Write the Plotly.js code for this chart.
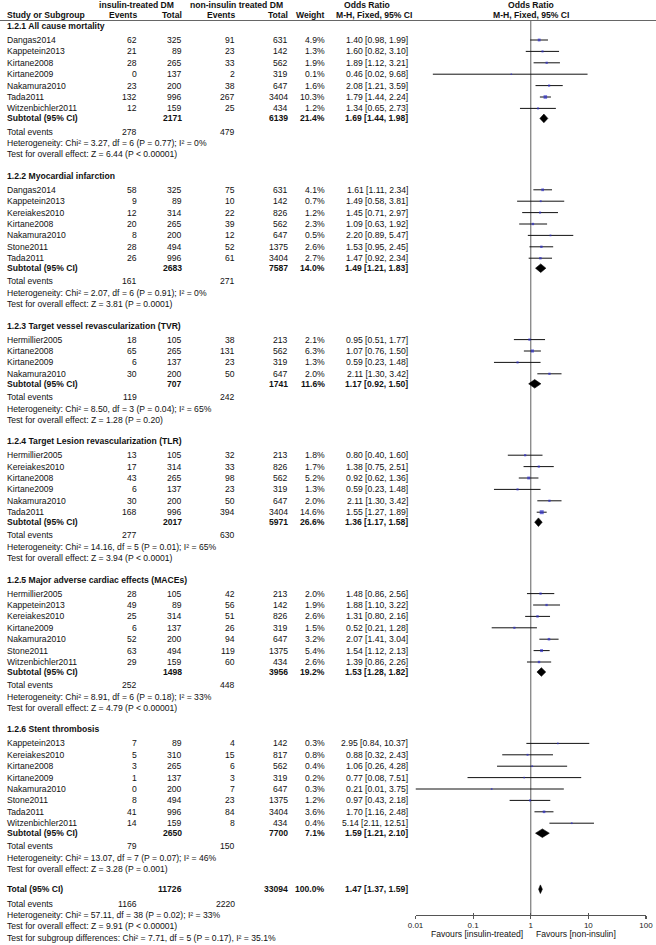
<!DOCTYPE html>
<html><head><meta charset="utf-8">
<script src="https://cdn.plot.ly/plotly-3.0.1.min.js"></script>
<style>html,body{margin:0;padding:0;background:#fff;}</style>
</head><body>
<div id="chart" style="width:656px;height:945px"></div>
<script>
// ---------- DATA ----------
const groupTitles = [
  '1.2.1 All cause mortality',
  '1.2.2 Myocardial infarction',
  '1.2.3 Target vessel revascularization (TVR)',
  '1.2.4 Target Lesion revascularization (TLR)',
  '1.2.5 Major adverse cardiac effects (MACEs)',
  '1.2.6 Stent thrombosis'
];
const groupSizes = [7, 7, 4, 6, 7, 8];

const studyNames = [
  'Dangas2014','Kappetein2013','Kirtane2008','Kirtane2009','Nakamura2010','Tada2011','Witzenbichler2011',
  'Dangas2014','Kappetein2013','Kereiakes2010','Kirtane2008','Nakamura2010','Stone2011','Tada2011',
  'Hermillier2005','Kirtane2008','Kirtane2009','Nakamura2010',
  'Hermillier2005','Kereiakes2010','Kirtane2008','Kirtane2009','Nakamura2010','Tada2011',
  'Hermillier2005','Kappetein2013','Kereiakes2010','Kirtane2009','Nakamura2010','Stone2011','Witzenbichler2011',
  'Kappetein2013','Kereiakes2010','Kirtane2008','Kirtane2009','Nakamura2010','Stone2011','Tada2011','Witzenbichler2011'
];
const insEvents = [62,21,28,0,23,132,12, 58,9,12,20,8,28,26, 18,65,6,30, 13,17,43,6,30,168, 28,49,25,6,52,63,29, 7,5,3,1,0,8,41,14];
const insTotals = [325,89,265,137,200,996,159, 325,89,314,265,200,494,996, 105,265,137,200, 105,314,265,137,200,996, 105,89,314,137,200,494,159, 89,310,265,137,200,494,996,159];
const nonEvents = [91,23,33,2,38,267,25, 75,10,22,39,12,52,61, 38,131,23,50, 32,33,98,23,50,394, 42,56,51,26,94,119,60, 4,15,6,3,7,23,84,8];
const nonTotals = [631,142,562,319,647,3404,434, 631,142,826,562,647,1375,3404, 213,562,319,647, 213,826,562,319,647,3404, 213,142,826,319,647,1375,434, 142,817,562,319,647,1375,3404,434];
const weights = [4.9,1.3,1.9,0.1,1.6,10.3,1.2, 4.1,0.7,1.2,2.3,0.5,2.6,2.7, 2.1,6.3,1.3,2.0, 1.8,1.7,5.2,1.3,2.0,14.6, 2.0,1.9,2.6,1.5,3.2,5.4,2.6, 0.3,0.8,0.4,0.2,0.3,1.2,3.6,0.4];
const orValues = [1.40,1.60,1.89,0.46,2.08,1.79,1.34, 1.61,1.49,1.45,1.09,2.20,1.53,1.47, 0.95,1.07,0.59,2.11, 0.80,1.38,0.92,0.59,2.11,1.55, 1.48,1.88,1.31,0.52,2.07,1.54,1.39, 2.95,0.88,1.06,0.77,0.21,0.97,1.70,5.14];
const ciLow = [0.98,0.82,1.12,0.02,1.21,1.44,0.65, 1.11,0.58,0.71,0.63,0.89,0.95,0.92, 0.51,0.76,0.23,1.30, 0.40,0.75,0.62,0.23,1.30,1.27, 0.86,1.10,0.80,0.21,1.41,1.12,0.86, 0.84,0.32,0.26,0.08,0.01,0.43,1.16,2.11];
const ciHigh = [1.99,3.10,3.21,9.68,3.59,2.24,2.73, 2.34,3.81,2.97,1.92,5.47,2.45,2.34, 1.77,1.50,1.48,3.42, 1.60,2.51,1.36,1.48,3.42,1.89, 2.56,3.22,2.16,1.28,3.04,2.13,2.26, 10.37,2.43,4.28,7.51,3.75,2.18,2.48,12.51];

const subInsTotals = [2171,2683,707,2017,1498,2650];
const subNonTotals = [6139,7587,1741,5971,3956,7700];
const subWeights = [21.4,14.0,11.6,26.6,19.2,7.1];
const subOR = [1.69,1.49,1.17,1.36,1.53,1.59];
const subLow = [1.44,1.21,0.92,1.17,1.28,1.21];
const subHigh = [1.98,1.83,1.50,1.58,1.82,2.10];
const subInsEvents = [278,161,119,277,252,79];
const subNonEvents = [479,271,242,630,448,150];
const hetChi2 = [3.27,2.07,8.50,14.16,8.91,13.07];
const hetDf = [6,6,3,5,6,7];
const hetP = [0.77,0.91,0.04,0.01,0.18,0.07];
const hetI2 = [0,0,65,65,33,46];
const effectZ = [6.44,3.81,1.28,3.94,4.79,3.28];
const effectP = ['< 0.00001','= 0.0001','= 0.20','< 0.0001','< 0.00001','= 0.001'];

const overallTotals = [11726, 33094];
const overallEvents = [1166, 2220];
const overallEstimate = [1.47, 1.37, 1.59];   // OR, low, high
const overallWeight = 100.0;
const overallHet = [57.11, 38, 0.02, 33];      // chi2, df, P, I2
const overallEffect = [9.91, '< 0.00001'];     // Z, P
const subgroupDiff = [7.71, 5, 0.17, 35.1];    // chi2, df, P, I2

const axisTicks = [0.01, 0.1, 1, 10, 100];
const axisTickText = ['0.01', '0.1', '1', '10', '100'];

// ---------- LAYOUT GEOMETRY ----------
const W = 656, H = 945;
const COL = {name: 7, insEv: 137, insTot: 182, nonEv: 235, nonTot: 287.5, weight: 325, orText: 408};
const ROW = 11.4;
const AXIS_Y = 915, HEAD_LINE = 20.5;

const font = {family: 'Arial, "Liberation Sans", Helvetica, sans-serif', size: 8.6, color: '#111'};
const annotations = [];
function txt(x, y, text, anchor, bold, xref) {
  annotations.push({
    xref: xref || 'x', yref: 'y', x: x, y: y,
    text: bold ? '<b>' + text + '</b>' : text,
    showarrow: false, xanchor: anchor, yanchor: 'middle',
    font: font, borderpad: 0, borderwidth: 0
  });
}
const f2 = v => v.toFixed(2);
const orStr = (o, l, h) => f2(o) + ' [' + f2(l) + ', ' + f2(h) + ']';

// header
txt(136.5, 4.5, 'insulin-treated DM', 'center', true);
txt(236.5, 4.5, 'non-insulin treated DM', 'center', true);
txt(367, 4.5, 'Odds Ratio', 'center', true);
txt(0, 4.5, 'Odds Ratio', 'center', true, 'x2');
txt(COL.name, 15, 'Study or Subgroup', 'left', true);
txt(COL.insEv, 15, 'Events', 'right', true);
txt(COL.insTot, 15, 'Total', 'right', true);
txt(COL.nonEv, 15, 'Events', 'right', true);
txt(COL.nonTot, 15, 'Total', 'right', true);
txt(COL.weight, 15, 'Weight', 'right', true);
txt(374, 15, 'M-H, Fixed, 95% CI', 'center', true);
txt(0, 15, 'M-H, Fixed, 95% CI', 'center', true, 'x2');

// rows
const studyY = [];
const diamondX = [], diamondY = [];
const DH = 4.3;
function addDiamond(o, l, h, y) {
  diamondX.push(l, o, h, o, l, null);
  diamondY.push(y, y - DH, y, y + DH, y, null);
}
let y = 26, k = 0, lastTest = 0;
groupSizes.forEach((n, g) => {
  txt(COL.name, y, groupTitles[g], 'left', true);
  let yy = y + 14;
  for (let i = 0; i < n; i++, k++) {
    studyY.push(yy);
    txt(COL.name, yy, studyNames[k], 'left');
    txt(COL.insEv, yy, String(insEvents[k]), 'right');
    txt(COL.insTot, yy, String(insTotals[k]), 'right');
    txt(COL.nonEv, yy, String(nonEvents[k]), 'right');
    txt(COL.nonTot, yy, String(nonTotals[k]), 'right');
    txt(COL.weight, yy, weights[k].toFixed(1) + '%', 'right');
    txt(COL.orText, yy, orStr(orValues[k], ciLow[k], ciHigh[k]), 'right');
    yy += ROW;
  }
  const sy = yy - ROW + 10;
  txt(COL.name, sy, 'Subtotal (95% CI)', 'left', true);
  txt(COL.insTot, sy, String(subInsTotals[g]), 'right', true);
  txt(COL.nonTot, sy, String(subNonTotals[g]), 'right', true);
  txt(COL.weight, sy, subWeights[g].toFixed(1) + '%', 'right', true);
  txt(COL.orText, sy, orStr(subOR[g], subLow[g], subHigh[g]), 'right', true);
  addDiamond(subOR[g], subLow[g], subHigh[g], sy);
  txt(COL.name, sy + 13.2, 'Total events', 'left');
  txt(COL.insEv, sy + 13.2, String(subInsEvents[g]), 'right');
  txt(COL.nonEv, sy + 13.2, String(subNonEvents[g]), 'right');
  txt(COL.name, sy + 24.8, 'Heterogeneity: Chi² = ' + f2(hetChi2[g]) + ', df = ' + hetDf[g] +
      ' (P = ' + f2(hetP[g]) + '); I² = ' + hetI2[g] + '%', 'left');
  txt(COL.name, sy + 36, 'Test for overall effect: Z = ' + f2(effectZ[g]) + ' (P ' +
      effectP[g].replace('<', '&lt;') + ')', 'left');
  lastTest = sy + 36;
  y = sy + 36 + 21.4;
});

const ty = lastTest + 20;
txt(COL.name, ty, 'Total (95% CI)', 'left', true);
txt(COL.insTot, ty, String(overallTotals[0]), 'right', true);
txt(COL.nonTot, ty, String(overallTotals[1]), 'right', true);
txt(COL.weight, ty, overallWeight.toFixed(1) + '%', 'right', true);
txt(COL.orText, ty, orStr(overallEstimate[0], overallEstimate[1], overallEstimate[2]), 'right', true);
addDiamond(overallEstimate[0], overallEstimate[1], overallEstimate[2], ty);
txt(COL.name, ty + 15, 'Total events', 'left');
txt(COL.insEv, ty + 15, String(overallEvents[0]), 'right');
txt(COL.nonEv, ty + 15, String(overallEvents[1]), 'right');
txt(COL.name, ty + 26, 'Heterogeneity: Chi² = ' + f2(overallHet[0]) + ', df = ' + overallHet[1] +
    ' (P = ' + f2(overallHet[2]) + '); I² = ' + overallHet[3] + '%', 'left');
txt(COL.name, ty + 37, 'Test for overall effect: Z = ' + f2(overallEffect[0]) + ' (P ' +
    overallEffect[1].replace('<', '&lt;') + ')', 'left');
txt(COL.name, ty + 48.3, 'Test for subgroup differences: Chi² = ' + f2(subgroupDiff[0]) + ', df = ' +
    subgroupDiff[1] + ' (P = ' + f2(subgroupDiff[2]) + '), I² = ' + subgroupDiff[3].toFixed(1) + '%', 'left');

// favours labels
annotations.push({xref: 'x2', yref: 'y', x: 0, y: 933.5, xshift: -7, text: 'Favours [insulin-treated]',
  showarrow: false, xanchor: 'right', yanchor: 'middle', font: font, borderpad: 0});
annotations.push({xref: 'x2', yref: 'y', x: 0, y: 933.5, xshift: 4, text: 'Favours [non-insulin]',
  showarrow: false, xanchor: 'left', yanchor: 'middle', font: font, borderpad: 0});

// ---------- TRACES ----------
const traces = [
  { // line of no effect
    type: 'scatter', mode: 'lines', x: [1, 1], y: [HEAD_LINE, AXIS_Y], xaxis: 'x2', yaxis: 'y',
    line: {color: '#7a7a7a', width: 1.2}, hoverinfo: 'skip'
  },
  { // studies
    type: 'scatter', mode: 'markers', x: orValues, y: studyY, xaxis: 'x2', yaxis: 'y',
    marker: {symbol: 'square', color: '#2e2ec8', size: weights.map(w => 1.3 + Math.sqrt(w) * 0.7), line: {width: 0}},
    error_x: {type: 'data', symmetric: false,
      array: ciHigh.map((h, i) => h - orValues[i]),
      arrayminus: ciLow.map((l, i) => orValues[i] - l),
      color: '#111', thickness: 1, width: 0},
    cliponaxis: false
  },
  { // diamonds
    type: 'scatter', mode: 'lines', x: diamondX, y: diamondY, xaxis: 'x2', yaxis: 'y',
    fill: 'toself', fillcolor: '#000', line: {color: '#000', width: 0.6}
  },
  { // helper for upper tick half
    type: 'scatter', mode: 'markers', x: [1], y: [AXIS_Y], xaxis: 'x3', yaxis: 'y',
    marker: {size: 0.1, opacity: 0}, hoverinfo: 'skip'
  }
];

const axPos = (H - AXIS_Y) / H;
const layout = {
  width: W, height: H, margin: {l: 0, r: 0, t: 0, b: 0},
  paper_bgcolor: '#fff', plot_bgcolor: 'rgba(0,0,0,0)', showlegend: false,
  font: font,
  xaxis: {range: [0, W], visible: false, fixedrange: true},
  yaxis: {range: [H, 0], visible: false, fixedrange: true},
  xaxis2: {
    type: 'log', range: [-2, 2], domain: [415.5 / W, 646 / W], anchor: 'free', position: axPos,
    showline: true, linecolor: '#555', linewidth: 1.2, ticks: 'outside', ticklen: 2.5, tickwidth: 1.2,
    tickcolor: '#555', tickvals: axisTicks, ticktext: axisTickText,
    tickfont: {family: font.family, size: 8, color: '#222'}, showgrid: false, zeroline: false, fixedrange: true
  },
  xaxis3: {
    type: 'log', range: [-2, 2], overlaying: 'x2', anchor: 'free', position: axPos,
    showline: false, ticks: 'inside', ticklen: 2.5, tickwidth: 1.2, tickcolor: '#555',
    tickvals: axisTicks, showticklabels: false, showgrid: false, zeroline: false, fixedrange: true
  },
  shapes: [{type: 'line', xref: 'paper', yref: 'y', x0: 0, x1: 1, y0: HEAD_LINE, y1: HEAD_LINE,
            line: {color: '#666', width: 1.2}}],
  annotations: annotations
};

Plotly.newPlot('chart', traces, layout, {displayModeBar: false, staticPlot: true});
</script>
</body></html>
